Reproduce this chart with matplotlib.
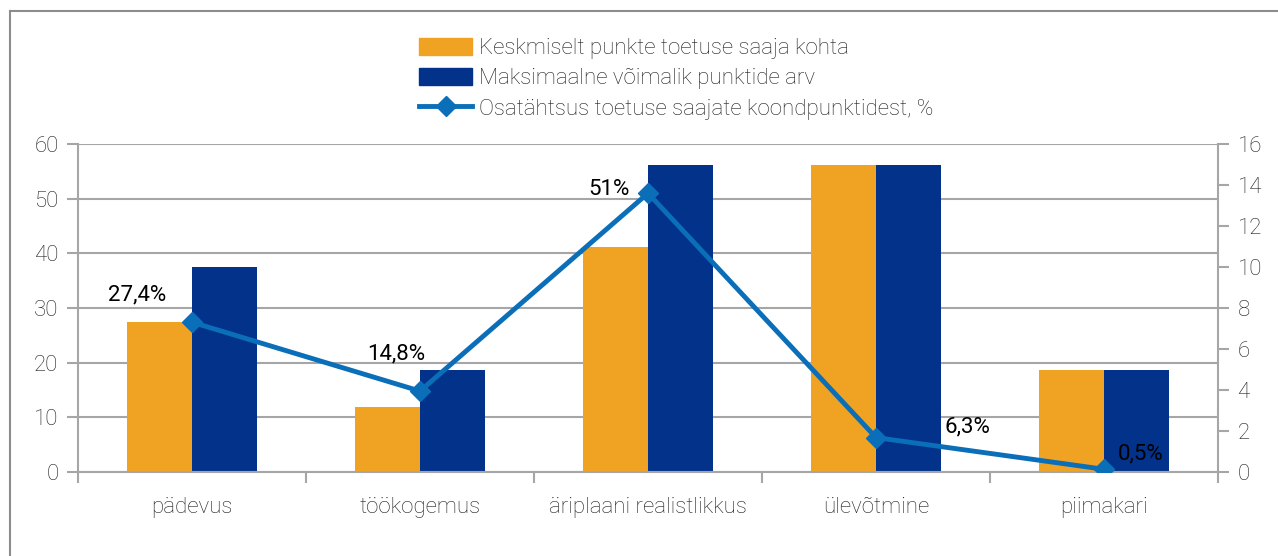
import matplotlib.pyplot as plt
import matplotlib.patches as mpatches
from matplotlib.lines import Line2D
import numpy as np

plt.rcParams['font.family'] = ['Roboto', 'DejaVu Sans']

# data
categories = ['pädevus', 'töökogemus', 'äriplaani realistlikkus', 'ülevõtmine', 'piimakari']
avg_points = [27.4, 11.9, 41.2, 56.25, 18.75]
max_points = [37.5, 18.75, 56.25, 56.25, 18.75]
share_pct = [27.4, 14.8, 51.0, 6.3, 0.5]
share_labels = ['27,4%', '14,8%', '51%', '6,3%', '0,5%']

c_orange = '#F0A323'
c_navy = '#02328A'
c_line = '#0A6EB8'
c_grid = '#A6A6A6'
c_text = '#1E1E1E'

fig = plt.figure(figsize=(12.78, 5.56), dpi=100)
ax = fig.add_axes([78 / 1278, 1 - 472 / 556, 1140 / 1278, 328 / 556])

x = np.arange(len(categories))
w = 0.285
ax.bar(x - w / 2, avg_points, w, color=c_orange, zorder=2)
ax.bar(x + w / 2, max_points, w, color=c_navy, zorder=2)
ax.plot(x, share_pct, color=c_line, lw=3.5, marker='D', ms=10, zorder=3)

ax.set_xlim(-0.5, len(categories) - 0.5)
ax.set_ylim(0, 60)
ax.set_yticks(range(0, 61, 10))
ax.yaxis.grid(True, color=c_grid, lw=1.5, zorder=0)
ax.set_axisbelow(True)

ax.set_xticks(x)
ax.set_xticklabels(categories, fontsize=16, color=c_text, fontweight='light')
ax.tick_params(axis='x', length=0, pad=18)
ax.set_xticks(np.arange(-0.5, len(categories)), minor=True)
ax.tick_params(axis='x', which='minor', length=8, width=1.5, color=c_grid)
ax.tick_params(axis='y', length=8, width=1.5, color=c_grid, labelsize=16, labelcolor=c_text, pad=6)
for t in ax.get_yticklabels():
    t.set_fontweight('light')

for s in ['top', 'right']:
    ax.spines[s].set_visible(False)
for s in ['left', 'bottom']:
    ax.spines[s].set_color(c_grid)
    ax.spines[s].set_linewidth(1.5)

ax2 = ax.twinx()
ax2.set_ylim(0, 16)
ax2.set_yticks(range(0, 17, 2))
ax2.tick_params(axis='y', length=8, width=1.5, color=c_grid, labelsize=16, labelcolor=c_text, pad=6)
for t in ax2.get_yticklabels():
    t.set_fontweight('light')
for s in ['top', 'left', 'bottom']:
    ax2.spines[s].set_visible(False)
ax2.spines['right'].set_color(c_grid)
ax2.spines['right'].set_linewidth(1.5)

# point labels (offsets in category / left-axis units)
offsets = [(-0.37, 3.1), (-0.23, 4.8), (-0.26, -1.2), (0.30, 0.1), (0.06, 0.8)]
for xi, yi, lab, (dx, dy) in zip(x, share_pct, share_labels, offsets):
    ax.text(xi + dx, yi + dy, lab, fontsize=16, color='black',
            ha='left', va='bottom', zorder=4)

handles = [
    mpatches.Patch(color=c_orange, label='Keskmiselt punkte toetuse saaja kohta'),
    mpatches.Patch(color=c_navy, label='Maksimaalne võimalik punktide arv'),
    Line2D([0], [0], color=c_line, lw=3.5, marker='D', ms=10,
           label='Osatähtsus toetuse saajate koondpunktidest, %'),
]
leg = fig.legend(handles=handles, loc='upper left', bbox_to_anchor=(408 / 1278, 1 - 27 / 556),
                 frameon=False, fontsize=16, handlelength=2.4, handleheight=0.8,
                 handletextpad=0.3, labelspacing=0.4, borderpad=0)
for t in leg.get_texts():
    t.set_fontweight('light')
    t.set_color(c_text)

# outer chart-area border (only top and left edges are visible in the crop)
fig.add_artist(Line2D([10 / 1278, 1], [1 - 11 / 556, 1 - 11 / 556], transform=fig.transFigure,
                      color='#8C8C8C', lw=1.5))
fig.add_artist(Line2D([10 / 1278, 10 / 1278], [0, 1 - 11 / 556], transform=fig.transFigure,
                      color='#8C8C8C', lw=1.5))

fig.savefig('out.png', dpi=100, facecolor='white')
